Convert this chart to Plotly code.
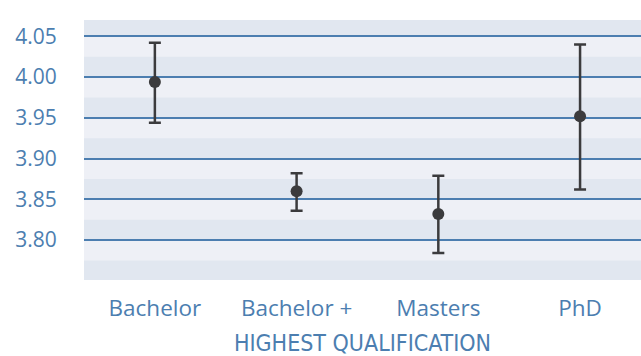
import plotly.graph_objects as go
import numpy as np

categories = ["Bachelor", "Bachelor +", "Masters", "PhD"]
means = [3.994, 3.860, 3.832, 3.952]
upper = [4.042, 3.882, 3.879, 4.040]
lower = [3.944, 3.836, 3.784, 3.862]
y_ticks = [3.80, 3.85, 3.90, 3.95, 4.00, 4.05]
x_title = "HIGHEST QUALIFICATION"

err_plus = [u - m for u, m in zip(upper, means)]
err_minus = [m - l for m, l in zip(means, lower)]

BLUE = "#4c7eb0"
DARK = "#3b3b3d"

fig = go.Figure()
fig.add_trace(go.Scatter(
    x=categories, y=means, mode="markers",
    marker=dict(color=DARK, size=12),
    error_y=dict(type="data", array=err_plus, arrayminus=err_minus,
                 color=DARK, thickness=2.5, width=6, symmetric=False),
    showlegend=False,
))

y0, y1 = 3.751, 4.070
shapes = []
m = 3.75
while m < y1:
    shapes.append(dict(type="rect", xref="paper", yref="y", x0=0, x1=1,
                       y0=m, y1=min(m + 0.025, y1), fillcolor="#e1e7f0",
                       line=dict(width=0), layer="below"))
    m = round(m + 0.05, 4)

fig.update_layout(
    width=641, height=356,
    margin=dict(l=84, r=0, t=20, b=76),
    paper_bgcolor="white", plot_bgcolor="#eef0f6",
    shapes=shapes,
    font=dict(family="Open Sans", color=BLUE),
    xaxis=dict(range=[-0.5, 3.43], showgrid=False, zeroline=False,
               showline=False, ticks="outside", ticklen=8, tickcolor="rgba(0,0,0,0)",
               tickfont=dict(size=22.5, color=BLUE),
               title=dict(text=x_title, standoff=12,
                          font=dict(family="DejaVu Sans Condensed, Roboto", size=23, color=BLUE))),
    yaxis=dict(range=[y0, y1], tickvals=y_ticks, ticktext=[f"{v:.2f}" for v in y_ticks],
               showgrid=True, gridcolor=BLUE, gridwidth=1.5, zeroline=False,
               showline=False, ticks="outside", ticklen=22, tickcolor="rgba(0,0,0,0)",
               tickfont=dict(size=21, color=BLUE)),
)

fig.write_html("out.html")
